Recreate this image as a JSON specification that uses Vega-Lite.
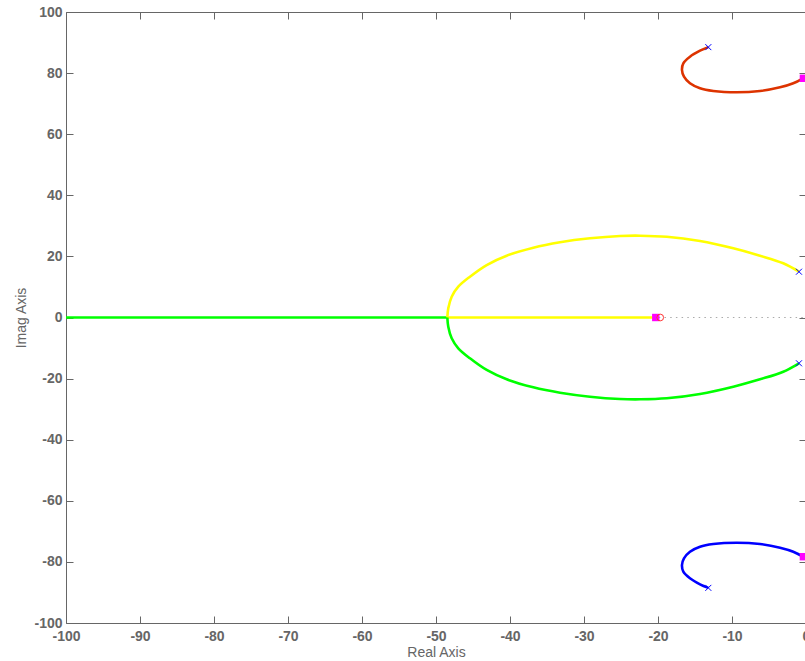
{
  "$schema": "https://vega.github.io/schema/vega-lite/v6.json",
  "width": 740,
  "height": 611,
  "padding": {"left": 66, "top": 12, "right": 0, "bottom": 38},
  "autosize": {"type": "none"},
  "background": "white",
  "config": {
    "view": {"stroke": null},
    "axis": {
      "domainColor": "#666666",
      "tickColor": "#666666",
      "labelColor": "#666666",
      "titleColor": "#666666",
      "labelFont": "Liberation Sans",
      "titleFont": "Liberation Sans",
      "labelFontWeight": "bold",
      "labelFontSize": 14,
      "titleFontSize": 14,
      "titleFontWeight": "normal",
      "grid": false,
      "tickSize": -7
    }
  },
  "datasets": {
    "locus": [
      {"branch": "red", "c": "red", "o": 0, "x": -13.2, "y": 88.5},
      {"branch": "red", "c": "red", "o": 1, "x": -14.32, "y": 87.33},
      {"branch": "red", "c": "red", "o": 2, "x": -15.68, "y": 85.37},
      {"branch": "red", "c": "red", "o": 3, "x": -16.58, "y": 83.21},
      {"branch": "red", "c": "red", "o": 4, "x": -16.76, "y": 81.01},
      {"branch": "red", "c": "red", "o": 5, "x": -16.49, "y": 78.82},
      {"branch": "red", "c": "red", "o": 6, "x": -15.68, "y": 76.66},
      {"branch": "red", "c": "red", "o": 7, "x": -14.32, "y": 75.02},
      {"branch": "red", "c": "red", "o": 8, "x": -12.53, "y": 74.14},
      {"branch": "red", "c": "red", "o": 9, "x": -9.36, "y": 73.72},
      {"branch": "red", "c": "red", "o": 10, "x": -6.22, "y": 74.14},
      {"branch": "red", "c": "red", "o": 11, "x": -3.51, "y": 75.35},
      {"branch": "red", "c": "red", "o": 12, "x": -1.72, "y": 76.66},
      {"branch": "red", "c": "red", "o": 13, "x": -0.4, "y": 78.3},
      {"branch": "blue", "c": "blue", "o": 0, "x": -13.2, "y": -88.5},
      {"branch": "blue", "c": "blue", "o": 1, "x": -14.32, "y": -87.33},
      {"branch": "blue", "c": "blue", "o": 2, "x": -15.68, "y": -85.37},
      {"branch": "blue", "c": "blue", "o": 3, "x": -16.58, "y": -83.21},
      {"branch": "blue", "c": "blue", "o": 4, "x": -16.76, "y": -81.01},
      {"branch": "blue", "c": "blue", "o": 5, "x": -16.49, "y": -78.82},
      {"branch": "blue", "c": "blue", "o": 6, "x": -15.68, "y": -76.66},
      {"branch": "blue", "c": "blue", "o": 7, "x": -14.32, "y": -75.02},
      {"branch": "blue", "c": "blue", "o": 8, "x": -12.53, "y": -74.14},
      {"branch": "blue", "c": "blue", "o": 9, "x": -9.36, "y": -73.72},
      {"branch": "blue", "c": "blue", "o": 10, "x": -6.22, "y": -74.14},
      {"branch": "blue", "c": "blue", "o": 11, "x": -3.51, "y": -75.35},
      {"branch": "blue", "c": "blue", "o": 12, "x": -1.72, "y": -76.66},
      {"branch": "blue", "c": "blue", "o": 13, "x": -0.4, "y": -78.3},
      {"branch": "yellow_axis", "c": "yellow", "o": 0, "x": -48.47, "y": 0},
      {"branch": "yellow_axis", "c": "yellow", "o": 1, "x": -20.3, "y": 0},
      {"branch": "green_axis", "c": "green", "o": 0, "x": -48.47, "y": 0},
      {"branch": "green_axis", "c": "green", "o": 1, "x": -100, "y": 0},
      {"branch": "yellow", "c": "yellow", "o": 0, "x": -0.95, "y": 14.99},
      {"branch": "yellow", "c": "yellow", "o": 1, "x": -3.07, "y": 17.74},
      {"branch": "yellow", "c": "yellow", "o": 2, "x": -6.22, "y": 20.23},
      {"branch": "yellow", "c": "yellow", "o": 3, "x": -9.82, "y": 22.65},
      {"branch": "yellow", "c": "yellow", "o": 4, "x": -14.32, "y": 25.04},
      {"branch": "yellow", "c": "yellow", "o": 5, "x": -18.82, "y": 26.45},
      {"branch": "yellow", "c": "yellow", "o": 6, "x": -22.43, "y": 26.78},
      {"branch": "yellow", "c": "yellow", "o": 7, "x": -25.14, "y": 26.68},
      {"branch": "yellow", "c": "yellow", "o": 8, "x": -29.19, "y": 25.92},
      {"branch": "yellow", "c": "yellow", "o": 9, "x": -33.24, "y": 24.62},
      {"branch": "yellow", "c": "yellow", "o": 10, "x": -36.85, "y": 22.85},
      {"branch": "yellow", "c": "yellow", "o": 11, "x": -40.45, "y": 20.23},
      {"branch": "yellow", "c": "yellow", "o": 12, "x": -43.15, "y": 17.18},
      {"branch": "yellow", "c": "yellow", "o": 13, "x": -45.41, "y": 13.36},
      {"branch": "yellow", "c": "yellow", "o": 14, "x": -46.99, "y": 10.08},
      {"branch": "yellow", "c": "yellow", "o": 15, "x": -47.88, "y": 6.81},
      {"branch": "yellow", "c": "yellow", "o": 16, "x": -48.34, "y": 3.01},
      {"branch": "yellow", "c": "yellow", "o": 17, "x": -48.47, "y": 0},
      {"branch": "green", "c": "green", "o": 0, "x": -0.95, "y": -14.99},
      {"branch": "green", "c": "green", "o": 1, "x": -3.07, "y": -17.74},
      {"branch": "green", "c": "green", "o": 2, "x": -6.22, "y": -20.23},
      {"branch": "green", "c": "green", "o": 3, "x": -9.82, "y": -22.65},
      {"branch": "green", "c": "green", "o": 4, "x": -14.32, "y": -25.04},
      {"branch": "green", "c": "green", "o": 5, "x": -18.82, "y": -26.45},
      {"branch": "green", "c": "green", "o": 6, "x": -22.43, "y": -26.78},
      {"branch": "green", "c": "green", "o": 7, "x": -25.14, "y": -26.68},
      {"branch": "green", "c": "green", "o": 8, "x": -29.19, "y": -25.92},
      {"branch": "green", "c": "green", "o": 9, "x": -33.24, "y": -24.62},
      {"branch": "green", "c": "green", "o": 10, "x": -36.85, "y": -22.85},
      {"branch": "green", "c": "green", "o": 11, "x": -40.45, "y": -20.23},
      {"branch": "green", "c": "green", "o": 12, "x": -43.15, "y": -17.18},
      {"branch": "green", "c": "green", "o": 13, "x": -45.41, "y": -13.36},
      {"branch": "green", "c": "green", "o": 14, "x": -46.99, "y": -10.08},
      {"branch": "green", "c": "green", "o": 15, "x": -47.88, "y": -6.81},
      {"branch": "green", "c": "green", "o": 16, "x": -48.34, "y": -3.01},
      {"branch": "green", "c": "green", "o": 17, "x": -48.47, "y": 0}
    ],
    "poles": [
      {"x": -13.2, "y": 88.5},
      {"x": -13.2, "y": -88.5},
      {"x": -0.95, "y": 14.99},
      {"x": -0.95, "y": -14.99}
    ],
    "zeros": [
      {"x": -19.7, "y": 0}
    ],
    "closed": [
      {"x": -20.3, "y": 0},
      {"x": -0.35, "y": 78.3},
      {"x": -0.35, "y": -78.3}
    ],
    "refline": [
      {"x": -100, "y": 0},
      {"x": 0, "y": 0}
    ]
  },
  "resolve": {"axis": {"x": "independent", "y": "independent"}},
  "layer": [
    {
      "data": {"name": "refline"},
      "mark": {"type": "line", "color": "#aaaaaa", "strokeWidth": 1.2, "strokeDash": [1.5, 4.2], "clip": true},
      "encoding": {
        "x": {"field": "x", "type": "quantitative", "scale": {"domain": [-100, 0], "nice": false, "zero": false},
          "axis": {"orient": "bottom", "title": "Real Axis", "values": [-100, -90, -80, -70, -60, -50, -40, -30, -20, -10, 0], "labelExpr": "toString(datum.value)", "labelPadding": 13, "titlePadding": 2, "labelFlush": false, "labelOverlap": false}},
        "y": {"field": "y", "type": "quantitative", "scale": {"domain": [-100, 100], "nice": false, "zero": false},
          "axis": {"orient": "left", "title": "Imag Axis", "values": [-100, -80, -60, -40, -20, 0, 20, 40, 60, 80, 100], "labelExpr": "toString(datum.value)", "labelPadding": 11, "titlePadding": 5, "labelFlush": false, "labelOverlap": false}}
      }
    },
    {
      "data": {"name": "locus"},
      "mark": {"type": "line", "strokeWidth": 2.6, "clip": true, "interpolate": "catmull-rom"},
      "encoding": {
        "x": {"field": "x", "type": "quantitative", "axis": {"orient": "top", "title": null, "labels": false, "values": [-100, -90, -80, -70, -60, -50, -40, -30, -20, -10, 0]}},
        "y": {"field": "y", "type": "quantitative", "axis": {"orient": "right", "title": null, "labels": false, "values": [-100, -80, -60, -40, -20, 0, 20, 40, 60, 80, 100]}},
        "order": {"field": "o", "type": "quantitative"},
        "detail": {"field": "branch"},
        "color": {"field": "c", "type": "nominal", "legend": null,
          "scale": {"domain": ["red", "blue", "yellow", "green"], "range": ["#dd3300", "#0000ff", "#ffff00", "#00ff00"]}}
      }
    },
    {
      "data": {"name": "closed"},
      "mark": {"type": "point", "shape": "square", "filled": true, "color": "#ff00ff", "size": 55, "opacity": 1, "clip": true},
      "encoding": {
        "x": {"field": "x", "type": "quantitative", "axis": null},
        "y": {"field": "y", "type": "quantitative", "axis": null}
      }
    },
    {
      "data": {"name": "zeros"},
      "mark": {"type": "point", "shape": "circle", "filled": false, "color": "#ff3333", "size": 45, "strokeWidth": 1, "opacity": 1},
      "encoding": {
        "x": {"field": "x", "type": "quantitative", "axis": null},
        "y": {"field": "y", "type": "quantitative", "axis": null}
      }
    },
    {
      "data": {"name": "poles"},
      "mark": {"type": "point", "shape": "M-1,-1L1,1M-1,1L1,-1", "filled": false, "color": "#0000ff", "size": 36, "strokeWidth": 1, "opacity": 1},
      "encoding": {
        "x": {"field": "x", "type": "quantitative", "axis": null},
        "y": {"field": "y", "type": "quantitative", "axis": null}
      }
    }
  ]
}
